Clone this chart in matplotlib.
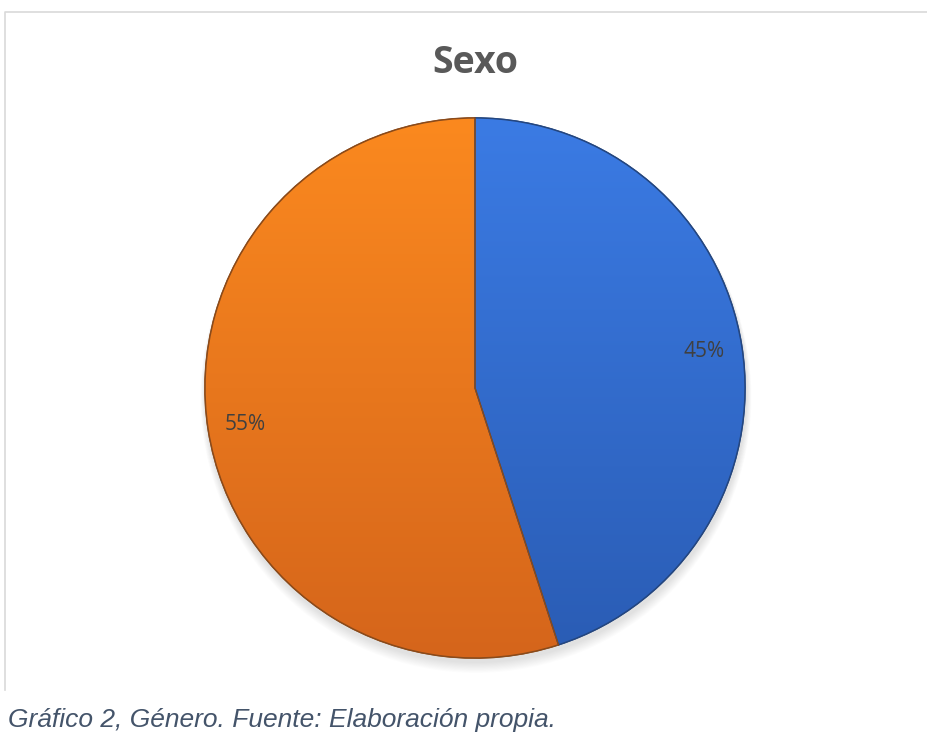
import numpy as np
import matplotlib.pyplot as plt
from matplotlib.colors import LinearSegmentedColormap
from matplotlib.patches import PathPatch

# data
categories = ['Hombre', 'Mujer']
values = [45, 55]
colors_top = ['#3b7be4', '#fb891f']
colors_bottom = ['#2a5cb4', '#d5651b']
edge_colors = ['#24467f', '#8a4a1a']

title = 'Sexo'
caption = 'Gráfico 2, Género. Fuente: Elaboración propia.'

W, H = 927, 740
fig = plt.figure(figsize=(W / 100, H / 100), dpi=100)
ax = fig.add_axes([0, 0, 1, 1])

cx, cy, r = 475, H - 388, 270

# soft shadow under the pie
for k in range(10):
    sh = plt.Circle((cx + 1, cy - 4 - k * 0.6), r + 1 + k * 0.5, color='#000000',
                    alpha=0.012, lw=0, zorder=1)
    ax.add_patch(sh)

wedges, texts, autotexts = ax.pie(
    values, colors=colors_top, startangle=90, counterclock=False,
    center=(cx, cy), radius=r, autopct='%1.0f%%', pctdistance=0.86,
    wedgeprops=dict(linewidth=1.2), textprops=dict(zorder=5))

# vertical gradient fill inside each wedge
grad = np.linspace(0, 1, 256).reshape(-1, 1)
for w, ct, cb, ec in zip(wedges, colors_top, colors_bottom, edge_colors):
    w.set_edgecolor(ec)
    w.set_zorder(2)
    cmap = LinearSegmentedColormap.from_list('g', [cb, ct])
    im = ax.imshow(grad, cmap=cmap, extent=(cx - r, cx + r, cy - r, cy + r),
                   origin='lower', aspect='auto', zorder=3, interpolation='bicubic')
    im.set_clip_path(w)
    # redraw edge on top
    ax.add_patch(PathPatch(w.get_path(), transform=w.get_transform(),
                           fill=False, ec=ec, lw=1.0, zorder=4))

for t in autotexts:
    t.set_fontfamily('Open Sans')
    t.set_fontsize(15)
    t.set_color('#404040')
    t.set_zorder(6)

ax.set_xlim(0, W)
ax.set_ylim(0, H)
ax.set_aspect('auto')
ax.axis('off')

# chart frame
ax.plot([5, 5, W], [H - 690, H - 12, H - 12], color='#d9d9d9', lw=1.2, zorder=0)

ax.text(cx, H - 63, title, ha='center', va='center', fontsize=27,
        fontweight='bold', color='#595959', family='Open Sans')
ax.text(8, H - 720, caption, ha='left', va='center', fontsize=19,
        style='italic', color='#44546a', family='Liberation Sans')

fig.savefig('out.png', dpi=100)
